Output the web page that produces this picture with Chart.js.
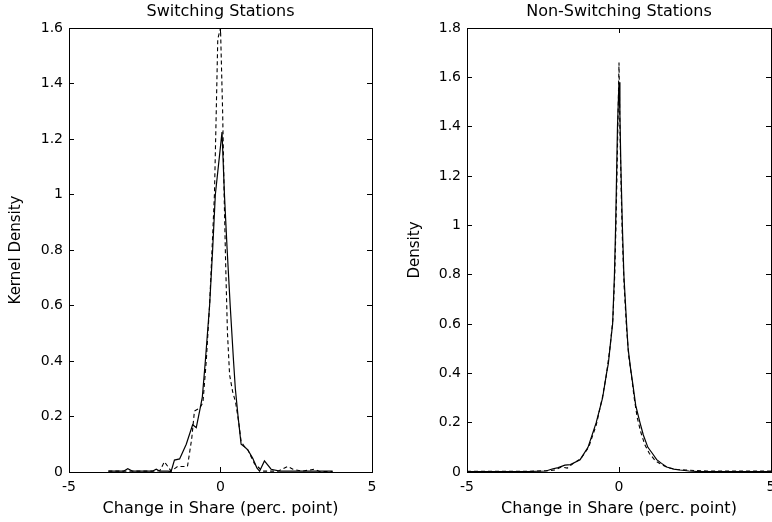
<!DOCTYPE html>
<html><head><meta charset="utf-8">
<script src="https://cdn.jsdelivr.net/npm/chart.js@4.4.1/dist/chart.umd.min.js"></script>
<style>
html,body{margin:0;padding:0;background:#fff;overflow:hidden;width:772px;height:522px}
canvas{position:absolute;top:0}
#c1{left:0}
#c2{left:386px}
</style></head><body>
<canvas id="c1" width="386" height="522"></canvas>
<canvas id="c2" width="386" height="522"></canvas>
<script>
// ---- tick values and labels ----
const xTicks = [-5, 0, 5];
const xTickLabels = ['-5', '0', '5'];
const yTicksLeft = [0, 0.2, 0.4, 0.6, 0.8, 1, 1.2, 1.4, 1.6];
const yTickLabelsLeft = ['0', '0.2', '0.4', '0.6', '0.8', '1', '1.2', '1.4', '1.6'];
const yTicksRight = [0, 0.2, 0.4, 0.6, 0.8, 1, 1.2, 1.4, 1.6, 1.8];
const yTickLabelsRight = ['0', '0.2', '0.4', '0.6', '0.8', '1', '1.2', '1.4', '1.6', '1.8'];

// ---- Switching Stations ----
const switchSolidX = [-3.7, -3.2, -3.06, -2.9, -2.25, -2.12, -2.0, -1.75, -1.63, -1.52, -1.35, -1.13, -0.92, -0.8, -0.67, -0.6, -0.5, -0.36, -0.26, -0.17, 0.05, 0.13, 0.22, 0.32, 0.43, 0.49, 0.58, 0.68, 0.8, 0.9, 1.06, 1.2, 1.29, 1.45, 1.67, 1.95, 2.5, 3.7];
const switchSolidY = [0.003, 0.003, 0.012, 0.003, 0.003, 0.01, 0.003, 0.003, 0.002, 0.043, 0.047, 0.1, 0.17, 0.16, 0.23, 0.27, 0.4, 0.6, 0.8, 1.0, 1.225, 1.0, 0.8, 0.6, 0.4, 0.3, 0.2, 0.1, 0.09, 0.08, 0.05, 0.015, 0.003, 0.04, 0.01, 0.003, 0.003, 0.003];
const switchDashedX = [-3.7, -2.2, -2.0, -1.85, -1.63, -1.42, -1.09, -0.95, -0.86, -0.69, -0.58, -0.47, -0.36, -0.28, -0.2, -0.14, -0.09, 0.0, 0.07, 0.12, 0.17, 0.23, 0.3, 0.4, 0.5, 0.6, 0.68, 0.8, 0.9, 1.12, 1.39, 1.9, 2.22, 2.39, 2.7, 3.1, 3.27, 3.7];
const switchDashedY = [0.003, 0.003, 0.005, 0.037, 0.003, 0.02, 0.02, 0.12, 0.22, 0.23, 0.25, 0.4, 0.6, 0.8, 1.0, 1.3, 1.56, 1.6, 1.3, 1.0, 0.75, 0.5, 0.35, 0.29, 0.25, 0.18, 0.11, 0.09, 0.08, 0.03, 0.003, 0.003, 0.02, 0.01, 0.003, 0.01, 0.002, 0.002];

// ---- Non-Switching Stations ----
const nonSolidX = [-5, -3.0, -2.4, -2.2, -2.0, -1.78, -1.6, -1.28, -1.02, -0.75, -0.54, -0.41, -0.35, -0.3, -0.21, -0.15, -0.11, -0.08, -0.05, 0, 0.03, 0.06, 0.11, 0.16, 0.25, 0.3, 0.38, 0.45, 0.55, 0.69, 0.8, 0.95, 1.1, 1.24, 1.4, 1.57, 1.8, 2.0, 2.3, 2.6, 5];
const nonSolidY = [0.002, 0.002, 0.004, 0.012, 0.018, 0.028, 0.03, 0.05, 0.1, 0.2, 0.3, 0.4, 0.44, 0.5, 0.6, 0.8, 1.0, 1.2, 1.4, 1.58, 1.45, 1.25, 1.0, 0.8, 0.6, 0.5, 0.42, 0.36, 0.27, 0.2, 0.15, 0.1, 0.075, 0.05, 0.035, 0.02, 0.012, 0.008, 0.004, 0.002, 0.002];
const nonDashedX = [-5, -3.0, -2.4, -2.1, -1.9, -1.7, -1.5, -1.25, -1.0, -0.75, -0.55, -0.42, -0.3, -0.2, -0.14, -0.1, -0.06, -0.03, 0, 0.03, 0.07, 0.11, 0.17, 0.25, 0.32, 0.4, 0.5, 0.6, 0.72, 0.85, 1.0, 1.2, 1.4, 1.6, 1.9, 2.2, 2.5, 2.9, 5];
const nonDashedY = [0.003, 0.003, 0.005, 0.008, 0.02, 0.016, 0.035, 0.055, 0.1, 0.19, 0.3, 0.39, 0.5, 0.62, 0.8, 1.0, 1.25, 1.45, 1.66, 1.4, 1.15, 0.95, 0.75, 0.58, 0.47, 0.4, 0.3, 0.22, 0.16, 0.11, 0.075, 0.045, 0.03, 0.018, 0.01, 0.008, 0.006, 0.004, 0.004];

const FONT = 'DejaVu Sans';
const toPts = (xs, ys) => xs.map((x, i) => ({x: x, y: ys[i]}));

function setTicks(values) {
  return s => { s.ticks = values.map(v => ({value: v})); };
}

function makeChart(id, o) {
  const tickFont = {family: FONT, size: 14};
  const titleFont = {family: FONT, size: 16};
  const grid = {drawOnChartArea: false, drawTicks: true, tickLength: -5, color: '#000', lineWidth: 1};
  const border = {display: true, color: '#000', width: 1};
  return new Chart(document.getElementById(id), {
    type: 'line',
    data: {
      datasets: [
        {data: toPts(o.solidX, o.solidY), borderColor: '#000', borderWidth: 1.2, pointRadius: 0, tension: 0, fill: false, xAxisID: 'x', yAxisID: 'y'},
        {data: toPts(o.dashX, o.dashY), borderColor: '#000', borderWidth: 1.1, borderDash: [4, 3], pointRadius: 0, tension: 0, fill: false, xAxisID: 'x', yAxisID: 'y'}
      ]
    },
    options: {
      responsive: false,
      animation: false,
      devicePixelRatio: 1,
      layout: {padding: 0},
      plugins: {legend: {display: false}, tooltip: {enabled: false}, title: {display: false}},
      scales: {
        x: {
          type: 'linear', position: 'bottom', min: -5, max: 5,
          afterBuildTicks: setTicks(xTicks),
          ticks: {callback: (v, i) => xTickLabels[i], font: tickFont, color: '#000', padding: 12, maxRotation: 0, autoSkip: false},
          grid: grid, border: border,
          title: {display: true, text: 'Change in Share (perc. point)', font: titleFont, color: '#000', padding: {top: 0, bottom: 4}},
          afterFit: s => { s.height = 50; s.paddingLeft = 0; s.paddingRight = 0; }
        },
        x2: {
          type: 'linear', position: 'top', min: -5, max: 5,
          afterBuildTicks: setTicks(xTicks),
          ticks: {display: false},
          grid: grid, border: border,
          title: {display: true, text: o.title, font: titleFont, color: '#000', padding: {top: 2, bottom: 0}},
          afterFit: s => { s.height = 28; s.paddingLeft = 0; s.paddingRight = 0; }
        },
        y: {
          type: 'linear', position: 'left', min: 0, max: o.yMax,
          afterBuildTicks: setTicks(o.yTicks),
          ticks: {callback: (v, i) => o.yLabels[i], font: tickFont, color: '#000', padding: 11, autoSkip: false},
          grid: grid, border: border,
          title: {display: true, text: o.yTitle, font: {family: FONT, size: 15}, color: '#000', padding: {top: o.yTitlePad, bottom: 0}},
          afterFit: s => { s.width = o.yWidth; s.paddingTop = 0; s.paddingBottom = 0; }
        },
        y2: {
          type: 'linear', position: 'right', min: 0, max: o.yMax,
          afterBuildTicks: setTicks(o.yTicks),
          ticks: {display: false},
          grid: grid, border: border,
          afterFit: s => { s.width = o.y2Width; s.paddingTop = 0; s.paddingBottom = 0; }
        }
      }
    }
  });
}

makeChart('c1', {
  title: 'Switching Stations', yTitle: 'Kernel Density', yMax: 1.6,
  yTicks: yTicksLeft, yLabels: yTickLabelsLeft, yWidth: 69, y2Width: 14, yTitlePad: 7,
  solidX: switchSolidX, solidY: switchSolidY, dashX: switchDashedX, dashY: switchDashedY
});
makeChart('c2', {
  title: 'Non-Switching Stations', yTitle: 'Density', yMax: 1.8,
  yTicks: yTicksRight, yLabels: yTickLabelsRight, yWidth: 81, y2Width: 1, yTitlePad: 20,
  solidX: nonSolidX, solidY: nonSolidY, dashX: nonDashedX, dashY: nonDashedY
});
</script>
</body></html>
